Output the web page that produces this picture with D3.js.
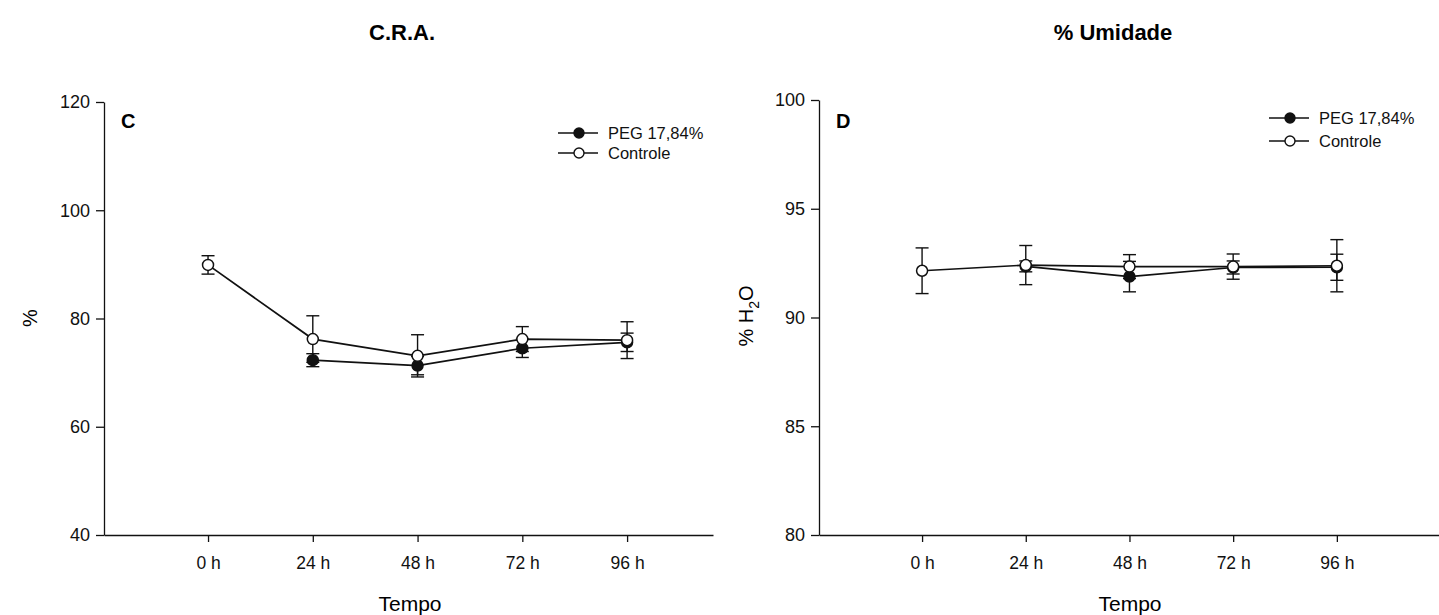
<!DOCTYPE html>
<html><head><meta charset="utf-8">
<script src="https://cdn.jsdelivr.net/npm/d3@7"></script>
<style>body{margin:0;background:#fff;} svg{display:block;}</style>
</head><body>
<svg id="chart" width="1439" height="615"></svg>
<script>
const categories = ["0 h","24 h","48 h","72 h","96 h"];
// Panel C: C.R.A. (%)
const craPEG      = [null, 72.3, 71.3, 74.5, 75.6];
const craPEGErr   = [null, 1.2, 1.7, 1.7, 1.7];
const craCtrl     = [89.9, 76.2, 73.1, 76.2, 76.0];
const craCtrlErr  = [1.7, 4.3, 3.9, 2.3, 3.4];
const craTicks    = [40, 60, 80, 100, 120];
// Panel D: % Umidade
const umPEG       = [null, 92.35, 91.88, 92.3, 92.31];
const umPEGErr    = [null, 0.25, 0.7, 0.3, 0.6];
const umCtrl      = [92.15, 92.41, 92.34, 92.34, 92.38];
const umCtrlErr   = [1.05, 0.9, 0.55, 0.58, 1.2];
const umTicks     = [80, 85, 90, 95, 100];
const seriesNames = ["PEG 17,84%", "Controle"];

const svg = d3.select("#chart");
const FONT = "'Liberation Sans', Arial, sans-serif";

function panel(opt){
  const g = svg.append("g");
  const x = d3.scaleLinear().domain(opt.xdom).range([opt.x0, opt.x1]);
  const y = d3.scaleLinear().domain(opt.ydom).range([535, opt.ytop]);
  const idx = categories.map((c,i)=>i);

  const ya = d3.axisLeft(y).tickValues(opt.yticks).tickSize(8).tickSizeOuter(0).tickPadding(6);
  g.append("g").attr("transform",`translate(${opt.x0},0)`).call(ya)
    .call(s=>{s.selectAll("text").attr("font-family",FONT).attr("font-size",18).attr("fill","#111");
      s.selectAll("line,path").attr("stroke","#111").attr("stroke-width",1.3);});
  const xa = d3.axisBottom(x).tickValues(idx).tickFormat(i=>categories[i]).tickSize(7).tickSizeOuter(0).tickPadding(15);
  g.append("g").attr("transform","translate(0,535)").call(xa)
    .call(s=>{s.selectAll("text").attr("font-family",FONT).attr("font-size",17.5).attr("fill","#111");
      s.selectAll("line,path").attr("stroke","#111").attr("stroke-width",1.3);});

  g.append("text").attr("x",opt.titleX).attr("y",40).attr("text-anchor","middle")
    .attr("font-family",FONT).attr("font-weight","bold").attr("font-size",22).text(opt.title);
  g.append("text").attr("x",opt.tempoX).attr("y",611).attr("text-anchor","middle")
    .attr("font-family",FONT).attr("font-size",21).text("Tempo");
  g.append("text").attr("x",opt.x0+17).attr("y",128)
    .attr("font-family",FONT).attr("font-weight","bold").attr("font-size",20).text(opt.letter);
  opt.ylabel(g);

  const series = [
    {v:opt.peg, e:opt.pegErr, fill:"#111"},
    {v:opt.ctrl, e:opt.ctrlErr, fill:"#fff"}
  ];
  const line = d3.line().defined(d=>d.v!=null).x(d=>x(d.i)).y(d=>y(d.v));
  series.forEach(s=>{
    idx.forEach(i=>{
      if(s.v[i]==null) return;
      const lo=s.v[i]-s.e[i], hi=s.v[i]+s.e[i], cx=x(i);
      g.append("line").attr("x1",cx).attr("x2",cx).attr("y1",y(lo)).attr("y2",y(hi)).attr("stroke","#111").attr("stroke-width",1.4);
      [lo,hi].forEach(v=>g.append("line").attr("x1",cx-6.5).attr("x2",cx+6.5).attr("y1",y(v)).attr("y2",y(v)).attr("stroke","#111").attr("stroke-width",1.4));
    });
  });
  series.forEach(s=>{
    g.append("path").datum(idx.map(i=>({i, v:s.v[i]}))).attr("d",line)
      .attr("fill","none").attr("stroke","#111").attr("stroke-width",1.7);
  });
  series.forEach(s=>{
    idx.forEach(i=>{
      if(s.v[i]==null) return;
      g.append("circle").attr("cx",x(i)).attr("cy",y(s.v[i])).attr("r",5.5)
        .attr("fill",s.fill).attr("stroke","#111").attr("stroke-width",1.5);
    });
  });

  seriesNames.forEach((n,k)=>{
    const ly = opt.legY[k];
    g.append("line").attr("x1",opt.legX).attr("x2",opt.legX+40).attr("y1",ly).attr("y2",ly).attr("stroke","#111").attr("stroke-width",1.5);
    g.append("circle").attr("cx",opt.legX+21).attr("cy",ly).attr("r",5)
      .attr("fill",series[k].fill).attr("stroke","#111").attr("stroke-width",1.4);
    g.append("text").attr("x",opt.legX+50).attr("y",ly+6).attr("font-family",FONT).attr("font-size",16.5).attr("fill","#111").text(n);
  });
}

panel({x0:104, x1:713, xdom:[-0.993, 4.82], ydom:[40,120], ytop:102, yticks:craTicks, title:"C.R.A.", titleX:402, tempoX:410,
  letter:"C", peg:craPEG, pegErr:craPEGErr, ctrl:craCtrl, ctrlErr:craCtrlErr, legX:558, legY:[133,153],
  ylabel:g=>g.append("text").attr("transform","translate(37,318) rotate(-90)").attr("text-anchor","middle")
    .attr("font-family",FONT).attr("font-size",20).text("%")});

panel({x0:819, x1:1439, xdom:[-0.994, 4.985], ydom:[80,100], ytop:100, yticks:umTicks, title:"% Umidade", titleX:1113, tempoX:1130,
  letter:"D", peg:umPEG, pegErr:umPEGErr, ctrl:umCtrl, ctrlErr:umCtrlErr, legX:1269, legY:[118,141],
  ylabel:g=>{const t=g.append("text").attr("transform","translate(753,316) rotate(-90)").attr("text-anchor","middle")
    .attr("font-family",FONT).attr("font-size",20);
    t.append("tspan").text("% H");
    t.append("tspan").attr("dy",6).attr("font-size",14).text("2");
    t.append("tspan").attr("dy",-6).text("O");}});
</script>
</body></html>
